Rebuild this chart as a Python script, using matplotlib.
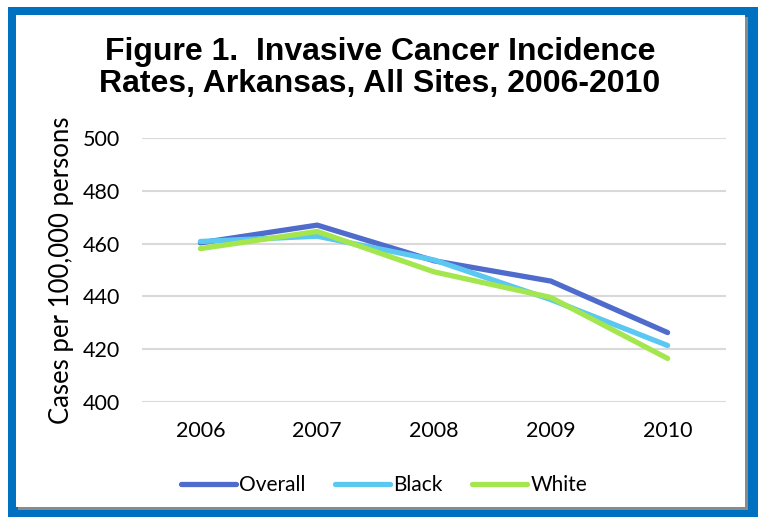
import matplotlib.pyplot as plt
from matplotlib.patches import Rectangle

years = ["2006", "2007", "2008", "2009", "2010"]
overall = [460.3, 467.0, 453.5, 445.8, 426.3]
black = [460.8, 462.8, 453.8, 438.8, 421.4]
white = [458.1, 464.6, 449.3, 439.6, 416.5]

series_names = ["Overall", "Black", "White"]
series_colors = ["#4f6bcc", "#5bc8f2", "#a4e64e"]

tick_font = "Lato"

fig = plt.figure(figsize=(7.6, 5.21), dpi=100)

# blue frame with grey drop shadow
fig.patches.append(Rectangle((8 / 760, 4 / 521), 750 / 760, 510 / 521, transform=fig.transFigure,
                             facecolor="#0070c0", edgecolor="none", zorder=0))
fig.patches.append(Rectangle((18 / 760, 11 / 521), 730 / 760, 493 / 521, transform=fig.transFigure,
                             facecolor="#8a8a8a", edgecolor="none", zorder=1))
fig.patches.append(Rectangle((16 / 760, 14 / 521), 729 / 760, 492 / 521, transform=fig.transFigure,
                             facecolor="white", edgecolor="none", zorder=2))

ax = fig.add_axes([142 / 760, 1 - 402 / 521, (726 - 142) / 760, (402 - 138) / 521])
ax.set_zorder(5)
ax.patch.set_alpha(0)

x = range(len(years))
for vals, name, col in zip([overall, black, white], series_names, series_colors):
    ax.plot(x, vals, color=col, linewidth=3.8, solid_capstyle="round", solid_joinstyle="round",
            label=name, zorder=3)

ax.set_xlim(-0.5, len(years) - 0.5)
ax.set_ylim(400, 500)
ax.set_yticks(range(400, 501, 20))
ax.set_xticks(list(x))
ax.set_xticklabels(years)
ax.grid(axis="y", color="#d9d9d9", linewidth=1.5, zorder=0)
ax.tick_params(length=0, labelsize=15.5, pad=16)
ax.tick_params(axis="x", pad=14)
for lab in ax.get_xticklabels() + ax.get_yticklabels():
    lab.set_family(tick_font)
for spine in ["top", "right", "left", "bottom"]:
    ax.spines[spine].set_visible(False)

ax.set_ylabel("Cases per 100,000 persons", fontsize=18.5, family=tick_font, labelpad=6)

fig.text(380 / 760, 1 - 68 / 521, "Figure 1.  Invasive Cancer Incidence\nRates, Arkansas, All Sites, 2006-2010",
         ha="center", va="center", fontsize=23, fontweight="bold", family="Liberation Sans",
         linespacing=1.1, zorder=6)

leg = fig.legend(*ax.get_legend_handles_labels(), loc="center", bbox_to_anchor=(384 / 760, 1 - 485 / 521),
                 ncol=3, frameon=False, prop={"family": tick_font, "size": 15},
                 handlelength=2.65, handletextpad=0.15, columnspacing=1.4)
leg.set_zorder(6)

fig.savefig("out.png", dpi=100)
